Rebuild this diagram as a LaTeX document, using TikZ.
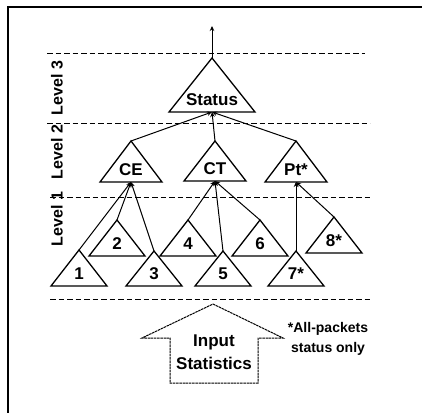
\documentclass[tikz,border=0pt]{standalone}
\usepackage{fontspec}
\setmainfont{Liberation Sans}
\usepackage{tikz}
\usetikzlibrary{arrows.meta}

\begin{document}
\begin{tikzpicture}[x=1pt, y=-1pt, font=\bfseries\fontsize{17}{19}\selectfont,
	tri/.style={draw, line width=1.3pt, line join=miter},
	lbl/.style={anchor=base, inner sep=0pt},
	edge/.style={line width=1pt, -{Stealth[length=5pt, width=4.5pt]}},
	sep/.style={line width=0.9pt, dash pattern=on 5.5pt off 3pt},
	lvl/.style={rotate=90, font=\bfseries\fontsize{16}{18}\selectfont, inner sep=0pt}]
		\useasboundingbox (0,0) rectangle (422,413);
		\draw[line width=2pt] (422,7) -- (8,7) -- (8,413);

		% level separators
		\draw[sep] (47,53) -- (365,53);
		\draw[sep] (47,123) -- (370,123);
		\draw[sep] (50,197) -- (370,197);
		\draw[sep] (50,299) -- (370,299);

		\node[lvl] (lv3) at (57,88) {Level 3};
		\node[lvl] (lv2) at (57,152) {Level 2};
		\node[lvl] (lv1) at (57,219) {Level 1};

		% triangles: name / centre x / apex y / base y / half width / text
		\foreach \n/\x/\ya/\yb/\hw/\txt in {status/212/58/112/43/Status,
				ce/131/141/182/31/CE, ct/215/141/181/31/CT, pt/296/141/182/31/Pt*,
				one/79/250/286/28/1, two/117/220/256/28/2, three/154/251/286/28/3,
				four/188/220/256/28/4, five/223/251/286/28/5, six/260/220/256/28/6,
				seven/296/251/286/28/7*, eight/334/217/253/28/8*} {
			\draw[tri] (\x-\hw,\yb) -- (\x,\ya) coordinate (\n-top) -- (\x+\hw,\yb) -- cycle;
			\coordinate (\n-bot) at (\x,\yb);
			\node[lbl] (\n) at (\x,\yb-7) {\txt};
		}

		% children feed their parent
		\foreach \c/\p in {ce/status, ct/status, pt/status,
				one/ce, two/ce, three/ce, four/ct, five/ct, six/ct, seven/pt, eight/pt}
			\draw[edge] (\c-top) -- (\p-bot);
		\coordinate (out) at (212,26);
		\draw[edge] (status-top) -- (out);

		% input arrow
		\draw[line width=1pt, dash pattern=on 2.5pt off 0.7pt, line join=miter]
			(213,304) -- (283,338) -- (258,338) -- (258,383) -- (170,383)
			-- (170,338) -- (142,338) -- cycle;
		\node[align=center, font=\bfseries\fontsize{17}{23}\selectfont] (input) at (214,352) {Input\\Statistics};
		\node[align=center, font=\bfseries\fontsize{14}{20}\selectfont] (note) at (328,339) {*All-packets\\status only};
\end{tikzpicture}
\end{document}
